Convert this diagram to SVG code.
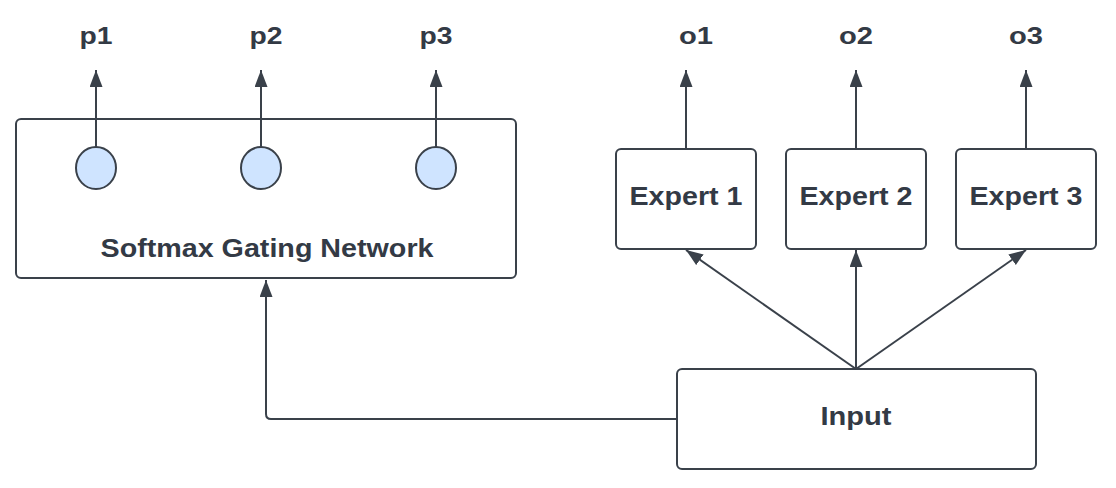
<svg xmlns="http://www.w3.org/2000/svg" width="1116" height="488" viewBox="0 0 1116 488">
  <style>
    .box { fill: #ffffff; stroke: #3a414a; stroke-width: 2; }
    .dot { fill: #cfe4ff; stroke: #3a414a; stroke-width: 2; }
    .conn { fill: none; stroke: #3a414a; stroke-width: 2; }
    .lbl { font-family: "Liberation Sans", Arial, sans-serif; font-weight: bold; fill: #333a45; text-anchor: middle; }
    .big { font-size: 26.5px; }
    .small { font-size: 23px; }
  </style>
  <defs>
    <marker id="arrow" markerUnits="userSpaceOnUse" markerWidth="18" markerHeight="14" refX="17" refY="6.5" orient="auto">
      <path d="M0,0 L17,6.5 L0,13 z" fill="#3a414a"/>
    </marker>
  </defs>
  <rect width="1116" height="488" fill="#ffffff"/>

  <g id="gating">
    <rect class="box" x="16" y="119" width="500" height="159" rx="5"/>
    <text class="lbl big" x="267" y="257" textLength="333" lengthAdjust="spacingAndGlyphs">Softmax Gating Network</text>
  </g>
  <g id="g1"><ellipse class="dot" cx="96" cy="168" rx="20" ry="21"/></g>
  <g id="g2"><ellipse class="dot" cx="261" cy="168" rx="20" ry="21"/></g>
  <g id="g3"><ellipse class="dot" cx="436" cy="168" rx="20" ry="21"/></g>

  <g id="expert1">
    <rect class="box" x="616" y="149" width="140" height="100" rx="5"/>
    <text class="lbl big" x="686" y="205" textLength="113" lengthAdjust="spacingAndGlyphs">Expert 1</text>
  </g>
  <g id="expert2">
    <rect class="box" x="786" y="149" width="140" height="100" rx="5"/>
    <text class="lbl big" x="856" y="205" textLength="113" lengthAdjust="spacingAndGlyphs">Expert 2</text>
  </g>
  <g id="expert3">
    <rect class="box" x="956" y="149" width="140" height="100" rx="5"/>
    <text class="lbl big" x="1026" y="205" textLength="113" lengthAdjust="spacingAndGlyphs">Expert 3</text>
  </g>
  <g id="input">
    <rect class="box" x="677" y="369" width="359" height="100" rx="5"/>
    <text class="lbl big" x="856" y="425" textLength="71" lengthAdjust="spacingAndGlyphs">Input</text>
  </g>

  <g id="p1"><text class="lbl small" x="96" y="44" textLength="33" lengthAdjust="spacingAndGlyphs">p1</text></g>
  <g id="p2"><text class="lbl small" x="266" y="44" textLength="33" lengthAdjust="spacingAndGlyphs">p2</text></g>
  <g id="p3"><text class="lbl small" x="436" y="44" textLength="33" lengthAdjust="spacingAndGlyphs">p3</text></g>
  <g id="o1"><text class="lbl small" x="696" y="44" textLength="34" lengthAdjust="spacingAndGlyphs">o1</text></g>
  <g id="o2"><text class="lbl small" x="856" y="44" textLength="34" lengthAdjust="spacingAndGlyphs">o2</text></g>
  <g id="o3"><text class="lbl small" x="1026" y="44" textLength="34" lengthAdjust="spacingAndGlyphs">o3</text></g>

  <g id="connectors">
    <line class="conn" x1="96" y1="147" x2="96" y2="70" marker-end="url(#arrow)"/>
    <line class="conn" x1="261" y1="147" x2="261" y2="70" marker-end="url(#arrow)"/>
    <line class="conn" x1="436" y1="147" x2="436" y2="70" marker-end="url(#arrow)"/>
    <line class="conn" x1="686" y1="149" x2="686" y2="70" marker-end="url(#arrow)"/>
    <line class="conn" x1="856" y1="149" x2="856" y2="70" marker-end="url(#arrow)"/>
    <line class="conn" x1="1026" y1="149" x2="1026" y2="70" marker-end="url(#arrow)"/>
    <line class="conn" x1="856" y1="369" x2="686" y2="250" marker-end="url(#arrow)"/>
    <line class="conn" x1="856" y1="369" x2="856" y2="250" marker-end="url(#arrow)"/>
    <line class="conn" x1="856" y1="369" x2="1026" y2="250" marker-end="url(#arrow)"/>
    <path class="conn" d="M677,419 L271,419 Q266,419 266,414 L266,280" marker-end="url(#arrow)"/>
  </g>
</svg>
